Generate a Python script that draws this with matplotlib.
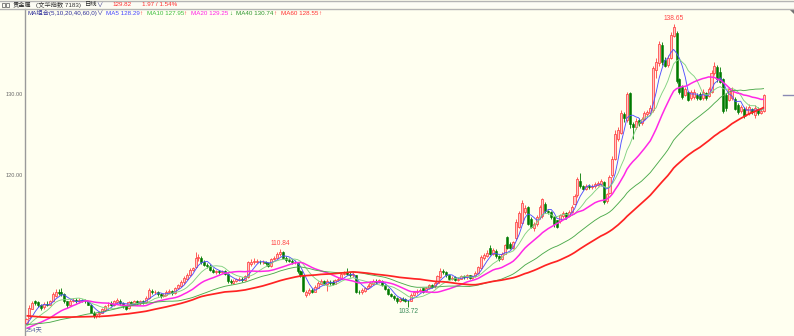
import numpy as np
import pandas as pd
import matplotlib
matplotlib.use("Agg")
import matplotlib.pyplot as plt
from matplotlib.patches import Rectangle, Polygon
from matplotlib.lines import Line2D
import matplotlib.transforms as mtrans

# ---------------- data ----------------
# closes before the visible window (only used to seed the moving averages)
prior_closes = [106.0, 105.8, 105.5, 105.9, 105.6, 105.2, 105.0, 105.3, 104.9, 104.6,
                104.8, 104.5, 104.2, 104.6, 104.4, 104.0, 103.8, 104.1, 103.7, 103.5,
                103.2, 103.0, 102.7, 102.9, 102.5, 102.3, 102.6, 102.2, 101.9, 102.1,
                101.8, 101.6, 101.9, 101.5, 101.7, 101.3, 101.6, 101.2, 101.0, 101.4,
                101.1, 100.8, 101.0, 100.6, 100.9, 100.5, 100.7, 101.0, 100.6, 100.8,
                101.2, 100.9, 101.1, 101.4, 101.0, 101.3, 101.6, 101.2, 101.5]

opens = [101.7, 102.4, 103.5, 104.4, 104.3, 103.9, 103.7, 104.1, 104.0, 104.5,
         105.1, 105.6, 105.5, 105.3, 104.4, 104.0, 104.5, 104.6, 104.4, 104.6,
         104.5, 104.4, 104.0, 103.0, 102.6, 102.8, 103.0, 103.3, 103.9, 104.2,
         103.9, 104.3, 104.5, 104.2, 103.8, 103.6, 104.3, 104.1, 104.4, 104.2,
         104.4, 104.3, 104.8, 105.7, 105.5, 105.6, 105.3, 105.0, 105.2, 105.6,
         105.7, 105.4, 106.0, 106.3, 106.8, 107.2, 107.6, 108.3, 108.6, 109.8,
         109.8, 109.3, 108.9, 108.8, 108.3, 108.0, 108.1, 108.0, 108.1, 107.8,
         106.9, 106.7, 106.9, 107.0, 107.2, 107.0, 107.4, 109.0, 109.2, 109.3,
         109.3, 109.2, 109.3, 109.1, 108.8, 109.6, 109.8, 110.2, 110.5, 109.8,
         109.5, 109.4, 109.2, 109.1, 108.1, 107.6, 105.2, 105.4, 105.8, 105.6,
         106.1, 106.6, 106.9, 106.6, 106.8, 106.8, 106.6, 107.0, 107.2, 107.8,
         108.0, 107.8, 107.6, 107.6, 105.6, 105.5, 105.7, 106.0, 106.3, 106.6,
         106.9, 106.8, 106.9, 106.4, 105.9, 105.3, 105.1, 104.8, 104.4, 104.7,
         104.7, 104.5, 104.5, 105.2, 105.5, 105.7, 106.0, 105.7, 106.0, 106.4,
         106.3, 106.7, 107.4, 108.2, 108.0, 107.6, 107.2, 107.4, 107.0, 107.2,
         107.5, 107.4, 107.6, 107.3, 107.5, 107.9, 108.5, 109.8, 110.0, 111.0,
         110.3, 110.6, 110.0, 109.6, 110.3, 112.3, 111.5, 111.0, 112.2, 113.6,
         114.1, 115.4, 116.0, 114.6, 113.4, 113.9, 114.8, 114.9, 116.4, 115.5,
         115.4, 114.8, 114.4, 114.3, 114.9, 115.3, 114.9, 115.4, 116.4, 117.5,
         119.3, 118.6, 118.3, 118.7, 118.5, 118.6, 118.8, 118.9, 119.1, 116.8,
         117.8, 120.0, 122.0, 124.5, 125.2, 127.5, 126.8, 130.1, 126.3, 125.9,
         126.8, 126.4, 126.9, 127.5, 127.7, 128.0, 133.0, 133.8, 136.0, 134.2,
         133.6, 134.5, 137.2, 137.5, 131.8, 130.9, 129.9, 130.3, 129.5, 129.6,
         129.9, 130.0, 129.5, 130.1, 129.8, 130.3, 132.6, 133.3, 132.7, 131.8,
         129.9, 129.3, 129.5, 129.4, 128.6, 127.9, 128.2, 127.5, 127.6, 128.1,
         127.4, 128.2, 127.7, 127.9]

closes = [102.2, 103.6, 104.2, 104.2, 103.9, 103.6, 104.1, 104.0, 104.4, 105.3,
          105.6, 105.4, 105.3, 104.4, 103.9, 104.5, 104.6, 104.4, 104.6, 104.5,
          104.4, 104.0, 103.0, 102.6, 102.8, 103.0, 103.4, 103.8, 104.0, 103.9,
          104.4, 104.6, 104.2, 103.8, 103.5, 104.3, 104.1, 104.4, 104.2, 104.4,
          104.3, 104.8, 105.8, 105.5, 105.6, 105.3, 105.0, 105.2, 105.6, 105.7,
          105.4, 106.0, 106.4, 106.8, 107.3, 107.7, 108.3, 108.5, 109.8, 109.9,
          109.3, 108.9, 108.8, 108.3, 108.0, 108.1, 108.0, 108.1, 107.8, 106.9,
          106.8, 106.9, 107.1, 107.2, 107.0, 107.5, 109.2, 109.3, 109.4, 109.3,
          109.2, 109.3, 109.1, 108.8, 109.6, 109.8, 110.3, 110.5, 109.8, 109.5,
          109.4, 109.2, 109.3, 108.1, 107.6, 105.7, 105.5, 105.8, 105.6, 106.2,
          106.7, 106.9, 106.6, 106.9, 106.7, 106.6, 107.0, 107.2, 107.8, 107.9,
          107.8, 107.6, 107.8, 105.6, 105.5, 105.8, 106.0, 106.3, 106.7, 106.9,
          106.8, 107.0, 106.4, 105.9, 105.3, 105.1, 104.8, 104.4, 104.7, 104.6,
          104.4, 104.4, 105.2, 105.5, 105.7, 105.8, 105.6, 106.0, 106.4, 106.2,
          106.7, 107.5, 108.2, 108.0, 107.6, 107.2, 107.3, 107.0, 107.2, 107.5,
          107.4, 107.6, 107.3, 107.5, 107.9, 108.6, 109.9, 110.1, 110.4, 110.3,
          110.7, 110.0, 109.6, 110.3, 111.3, 111.0, 111.0, 111.7, 114.2, 115.3,
          116.5, 115.9, 114.0, 113.6, 113.9, 114.8, 116.0, 117.0, 115.5, 115.4,
          114.8, 113.9, 113.6, 115.0, 115.3, 114.8, 115.4, 116.1, 117.4, 119.5,
          118.6, 118.3, 118.7, 118.5, 118.7, 118.9, 119.0, 119.2, 116.7, 117.6,
          119.8, 122.0, 125.0, 125.6, 127.7, 127.0, 130.0, 126.3, 125.9, 126.7,
          126.4, 126.9, 127.6, 127.8, 128.3, 133.2, 134.0, 136.2, 133.9, 133.5,
          134.5, 137.3, 138.3, 131.6, 130.3, 129.6, 130.6, 129.3, 130.2, 130.3,
          129.5, 129.4, 130.3, 129.5, 130.6, 132.6, 133.5, 131.8, 131.5, 127.9,
          128.3, 130.6, 130.5, 128.2, 127.8, 128.4, 127.3, 128.2, 128.4, 127.8,
          128.3, 127.6, 127.85, 129.82]

highs = [102.4, 104.0, 104.5, 104.6, 104.5, 104.1, 104.3, 104.5, 104.6, 105.5,
         105.9, 105.9, 106.0, 105.4, 104.5, 104.7, 104.8, 104.8, 104.8, 104.7,
         104.7, 104.5, 104.1, 103.2, 103.0, 103.2, 103.6, 104.0, 104.3, 104.4,
         104.6, 104.8, 104.7, 104.3, 103.9, 104.5, 104.4, 104.6, 104.6, 104.6,
         104.6, 105.0, 106.0, 105.9, 105.8, 105.7, 105.4, 105.4, 105.8, 105.9,
         105.8, 106.2, 106.6, 107.0, 107.5, 107.9, 108.5, 108.7, 110.5, 110.2,
         110.0, 109.5, 109.1, 109.0, 108.5, 108.3, 108.3, 108.3, 108.3, 107.9,
         107.1, 107.1, 107.3, 107.4, 107.4, 107.7, 109.4, 109.6, 109.8, 109.6,
         109.5, 109.5, 109.4, 109.2, 109.8, 110.0, 110.5, 110.84, 110.6, 110.0,
         109.7, 109.6, 109.5, 109.2, 108.3, 107.7, 105.8, 106.0, 106.0, 106.4,
         106.9, 107.1, 107.0, 107.2, 107.0, 107.0, 107.2, 107.4, 108.0, 108.1,
         108.5, 108.0, 108.0, 107.7, 105.8, 106.0, 106.2, 106.5, 106.9, 107.1,
         107.1, 107.2, 107.0, 106.5, 106.0, 105.4, 105.2, 104.9, 104.9, 104.9,
         104.8, 104.6, 105.4, 105.7, 105.9, 106.0, 106.1, 106.2, 106.6, 106.5,
         106.9, 107.7, 108.5, 108.4, 108.1, 107.7, 107.5, 107.5, 107.4, 107.7,
         107.7, 107.8, 107.7, 107.7, 108.1, 108.8, 110.1, 110.4, 110.7, 111.4,
         111.0, 110.8, 110.1, 110.5, 111.5, 112.5, 111.7, 111.9, 114.6, 115.6,
         116.9, 116.3, 116.2, 114.8, 114.2, 115.0, 116.3, 117.2, 116.7, 115.7,
         115.5, 114.9, 114.5, 115.2, 115.6, 115.4, 115.7, 116.3, 117.6, 119.8,
         120.2, 118.8, 118.9, 118.9, 118.9, 119.1, 119.2, 119.5, 119.3, 117.8,
         120.0, 122.3, 125.6, 125.9, 128.0, 127.8, 130.3, 130.2, 126.5, 127.0,
         127.0, 127.2, 127.9, 128.0, 128.6, 133.5, 134.5, 136.6, 136.4, 134.6,
         134.8, 137.6, 138.65, 137.8, 132.0, 131.1, 130.9, 130.4, 130.5, 130.6,
         130.1, 130.2, 130.6, 130.3, 130.9, 133.0, 134.0, 133.6, 133.3, 132.0,
         130.1, 130.9, 130.8, 129.6, 128.9, 128.6, 128.4, 128.5, 128.7, 128.3,
         128.6, 128.4, 128.1, 130.0]

lows = [101.5, 102.3, 103.4, 104.0, 103.7, 103.3, 103.5, 103.8, 103.9, 104.4,
        104.9, 105.2, 105.1, 104.2, 103.6, 103.9, 104.3, 104.2, 104.2, 104.3,
        104.2, 103.9, 102.9, 102.4, 102.3, 102.5, 102.9, 103.2, 103.7, 103.8,
        103.8, 104.2, 104.0, 103.6, 103.3, 103.5, 103.9, 104.0, 104.0, 104.0,
        104.1, 104.2, 104.7, 105.3, 105.3, 105.1, 104.8, 104.9, 105.1, 105.4,
        105.2, 105.3, 105.9, 106.2, 106.6, 107.0, 107.5, 108.1, 108.5, 109.4,
        109.0, 108.8, 108.5, 108.1, 107.9, 107.8, 107.8, 107.9, 107.6, 106.7,
        106.5, 106.5, 106.8, 106.9, 106.8, 106.9, 107.3, 108.8, 109.0, 109.1,
        109.0, 109.0, 108.9, 108.6, 108.7, 109.5, 109.7, 110.0, 109.7, 109.3,
        109.2, 109.0, 109.0, 107.9, 107.4, 105.5, 104.9, 105.2, 105.4, 105.5,
        106.0, 106.5, 106.4, 105.7, 106.4, 106.4, 106.5, 106.9, 107.1, 107.6,
        107.7, 107.4, 107.4, 105.4, 105.3, 105.3, 105.5, 105.9, 106.2, 106.5,
        106.6, 106.7, 106.3, 105.8, 105.2, 104.9, 104.6, 104.2, 104.3, 104.4,
        104.3, 103.72, 104.4, 105.0, 105.3, 105.5, 105.4, 105.5, 105.9, 106.0,
        106.1, 106.6, 107.3, 107.8, 107.4, 107.0, 107.0, 106.9, 106.9, 107.1,
        107.2, 107.2, 107.2, 107.1, 107.4, 107.8, 108.4, 109.5, 109.9, 110.1,
        110.1, 109.8, 109.4, 109.5, 110.2, 110.8, 110.8, 110.9, 112.0, 113.4,
        114.0, 115.2, 113.8, 113.4, 113.1, 113.7, 114.6, 114.7, 115.3, 115.2,
        114.6, 113.6, 113.4, 114.1, 114.7, 114.6, 114.8, 115.3, 116.3, 117.3,
        118.4, 118.1, 118.2, 118.3, 118.3, 118.4, 118.6, 118.7, 116.4, 116.6,
        117.6, 119.8, 121.8, 124.2, 125.0, 126.5, 126.6, 125.8, 124.5, 125.7,
        126.1, 126.2, 126.8, 127.3, 127.5, 127.8, 132.0, 133.5, 133.6, 133.3,
        133.3, 134.3, 137.0, 131.4, 130.0, 129.4, 129.7, 129.1, 129.3, 129.4,
        129.3, 129.2, 129.3, 129.3, 129.6, 130.1, 132.4, 131.5, 131.3, 127.6,
        127.9, 129.1, 129.3, 128.0, 127.5, 127.7, 127.0, 127.3, 127.4, 127.5,
        127.0, 127.4, 127.5, 127.8]

ma_periods = [5, 10, 20, 40, 60]
ma_colors = ["#5050ff", "#82d282", "#ff28e6", "#4caa4c", "#ff2323"]
ma_widths = [0.65, 0.65, 1.1, 0.65, 1.25]
ma_legend = ["MA5 128.29", "MA10 127.95", "MA20 129.25", "MA40 130.74", "MA60 128.55"]
ma_arrows = ["↑", "↑", "↓", "↑", "↑"]

y_ticks = [120, 130]
y_tick_labels = ["120.00", "130.00"]
extremes = [(222, "138.65", "hi"), (87, "110.84", "hi"), (131, "103.72", "lo")]

# ---------------- figure ----------------
W, H = 794, 336
BG = "#fffff0"
fig = plt.figure(figsize=(W / 100, H / 100), dpi=100)
fig.patch.set_facecolor(BG)

def fx(x):
    return x / W

def fy(y):
    return 1 - y / H

ax = fig.add_axes([fx(25), 0, 1 - fx(25), (H - 9) / H])
ax.set_facecolor(BG)

o = np.array(opens)
c = np.array(closes)
hi = np.array(highs)
lo = np.array(lows)
n = len(c)
x = np.arange(n)
up = c >= o

RED = "#ff4040"
GRN = "#007a00"
ax.vlines(x[up], lo[up], hi[up], colors=RED, linewidth=0.6, zorder=2)
ax.vlines(x[~up], lo[~up], hi[~up], colors=GRN, linewidth=0.6, zorder=2)
bottom = np.minimum(o, c)
height = np.maximum(np.abs(c - o), 0.07)
ax.bar(x[up], height[up], bottom=bottom[up], width=0.7, facecolor="#ffc8c8",
       edgecolor=RED, linewidth=0.55, zorder=3)
ax.bar(x[~up], height[~up], bottom=bottom[~up], width=0.7, facecolor=GRN,
       edgecolor=GRN, linewidth=0.4, zorder=3)

all_c = pd.Series(prior_closes + closes)
for p, col, lw in zip(ma_periods, ma_colors, ma_widths):
    ma = all_c.rolling(p).mean().to_numpy()[len(prior_closes):]
    ax.plot(x, ma, color=col, linewidth=lw, zorder=4, solid_capstyle="butt")

ax.set_xlim(-0.51, 263.3)
ax.set_ylim(100.12, 140.49)

# last price marker on the right edge
trans = mtrans.blended_transform_factory(ax.transAxes, ax.transData)
ax.plot([0.986, 1.0], [c[-1], c[-1]], transform=trans, color="#8a8ab4", linewidth=1.0,
        zorder=5)

for sp in ["top", "right", "bottom"]:
    ax.spines[sp].set_visible(False)
ax.spines["left"].set_color("#9a9a9a")
ax.spines["left"].set_linewidth(1.0)
ax.set_xticks([])
ax.set_yticks(y_ticks)
ax.set_yticklabels(y_tick_labels, fontsize=4.1, color="#6a6a6a", family="Liberation Sans")
ax.tick_params(axis="y", length=0, pad=1.8)

for idx, txt, kind in extremes:
    if kind == "hi":
        ax.annotate(txt, (idx, hi[idx]), xytext=(0, 1.6), textcoords="offset points",
                    ha="center", va="bottom", fontsize=4.8, color="#ff4646",
                    family="Liberation Sans", zorder=6)
    else:
        ax.annotate(txt, (idx, lo[idx]), xytext=(0, -0.6), textcoords="offset points",
                    ha="center", va="top", fontsize=4.8, color="#3c8c5a",
                    family="Liberation Sans", zorder=6)

# ---------------- header ----------------
FAM = ["Liberation Sans", "Noto Sans CJK SC", "DejaVu Sans"]
FS = 4.5
fig.add_artist(Line2D([0, 1], [fy(0.5), fy(0.5)], color="#b4b4b4", linewidth=1.0))
fig.add_artist(Line2D([0, 1], [fy(8.8), fy(8.8)], color="#b4b4b4", linewidth=1.0))
fig.add_artist(Rectangle((fx(0), fy(8.3)), fx(794), (7.6) / H, facecolor="#fcfcf4",
                         edgecolor="none", zorder=-1))
# small window icon
for x0 in (1.5, 5.5):
    fig.add_artist(Rectangle((fx(x0), fy(7)), fx(3.2), 4 / H, facecolor="none",
                             edgecolor="#555555", linewidth=0.5))
fig.add_artist(Polygon([(fx(789.5), fy(9.5)), (fx(793.5), fy(9.5)), (fx(793.5), fy(13.5))],
                       closed=True, facecolor="#707070", edgecolor="none"))

def htext(xp, yp, s, color):
    fig.text(fx(xp), fy(yp), s, fontsize=FS, color=color, family=FAM,
             ha="left", va="center")

htext(12.3, 4.9, "贵金属", "#222222")
htext(35.5, 4.9, "(文华指数 7183)", "#333333")
htext(85, 4.9, "日线", "#222222")
htext(96.5, 4.9, "∨", "#3a3a8a")
htext(112, 4.9, "129.82", "#ff3030")
htext(142, 4.9, "1.97 / 1.54%", "#ff3030")

htext(27, 13.3, "MA组合(5,10,20,40,60,0)", "#2d2d9a")
htext(96.3, 13.3, "∨", "#2d2d9a")
leg_x = [105.5, 146.7, 191, 236, 281]
arr_x = [139.5, 183.5, 229.5, 273.5, 318.5]
leg_cols = ["#4646ff", "#3cbe3c", "#ff1ee6", "#2e962e", "#ff3030"]
for lx, axp, s, a, col in zip(leg_x, arr_x, ma_legend, ma_arrows, leg_cols):
    htext(lx, 13.3, s, col)
    htext(axp, 13.3, a, "#ff3030" if a == "↑" else "#1e9e1e")

fig.text(fx(25.5), fy(330.5), "254天", fontsize=FS, color="#5a64a0", family=FAM,
         ha="left", va="center")

fig.savefig("out.png", dpi=100, facecolor=BG)
